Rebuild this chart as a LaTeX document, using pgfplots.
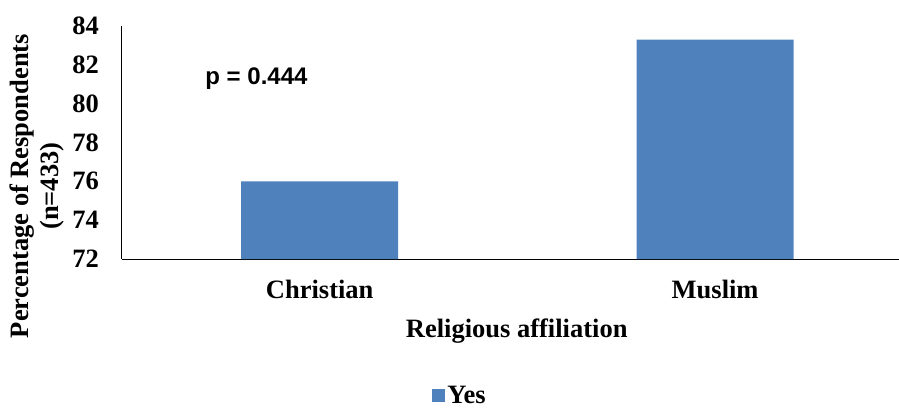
\documentclass[border=0pt]{standalone}
\usepackage{pgfplots}
\pgfplotsset{compat=1.18}
\usepackage{fontspec}
\setmainfont{Liberation Serif}
\newfontfamily\arialfont{Liberation Sans}
\definecolor{barblue}{HTML}{4F81BD}
\begin{document}
\begin{tikzpicture}
\begin{axis}[name=ax,
  scale only axis, width=777pt, height=233pt,
  xmin=-0.5, xmax=1.465, ymin=72, ymax=84,
  ytick={72,74,...,84},
  xtick={0,1}, xticklabels={Christian,Muslim},
  axis x line*=bottom, axis y line*=left,
  axis line style={black, line width=1pt},
  major tick length=0pt,
  /pgf/number format/assume math mode=true,
  tick label style={font=\fontsize{26.5}{30}\selectfont\bfseries},
  yticklabel style={anchor=east, inner sep=0pt, xshift=-23pt},
  xticklabel style={anchor=north, inner sep=0pt, yshift=-21pt},
  xlabel={Religious affiliation},
  xlabel style={font=\fontsize{26.5}{30}\selectfont\bfseries, inner sep=0pt, at={(axis description cs:0.508,-0.255)}, anchor=north},
  ylabel={Percentage of Respondents\\(n=433)},
  ylabel style={font=\fontsize{26.5}{30}\selectfont\bfseries, align=center, at={(axis description cs:-0.109,0.313)}, anchor=center, rotate=0},
  legend style={draw=none, fill=none, inner sep=1pt, font=\fontsize{26.5}{30}\selectfont\bfseries, at={(axis description cs:0.435,-0.585)}, anchor=center, legend image code/.code={\fill[barblue] (0pt,-7pt) rectangle (13pt,6pt);}},
  legend cell align=left,
]
\addplot[ybar, bar width=157pt, fill=barblue, draw=none] coordinates {(0,76.0) (1,83.3)};
\addlegendentry{Yes}
\node[font=\fontsize{24}{28}\selectfont\arialfont\bfseries] at (axis cs:-0.16,81.3) {p = 0.444};
\end{axis}
\pgfresetboundingbox
\path[use as bounding box] ([xshift=-122pt,yshift=-150pt]ax.south west) rectangle ([yshift=26pt]ax.north east);
\end{tikzpicture}
\end{document}
